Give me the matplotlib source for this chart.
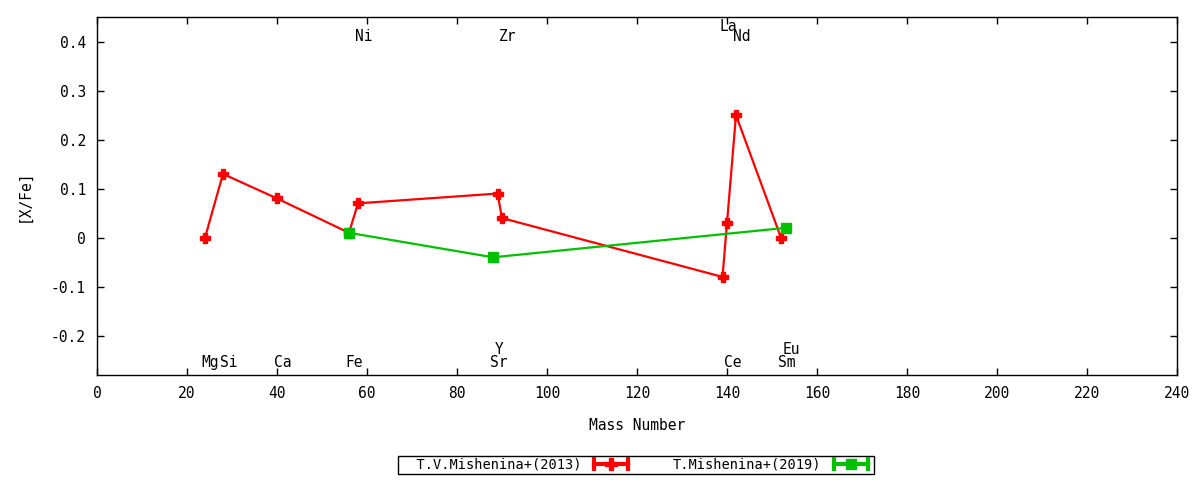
import matplotlib
matplotlib.use("Agg")
import matplotlib.pyplot as plt
from matplotlib.lines import Line2D
from matplotlib.legend_handler import HandlerLine2D, HandlerTuple

plt.rcParams['font.family'] = ['DejaVu Sans Mono']
plt.rcParams['font.size'] = 10

# Data
red_mass = [24, 28, 40, 56, 58, 89, 90, 139, 140, 142, 152]
red_val = [0.0, 0.13, 0.08, 0.01, 0.07, 0.09, 0.04, -0.08, 0.03, 0.25, 0.0]
green_mass = [56, 88, 153]
green_val = [0.01, -0.04, 0.02]
red_label = "T.V.Mishenina+(2013)"
green_label = "T.Mishenina+(2019)"

elem_names = ["Mg", "Si", "Ca", "Fe", "Sr", "Y", "Ce", "Sm", "Eu", "Ni", "Zr", "La", "Nd"]
elem_mass = [24, 28, 40, 56, 88, 89, 140, 152, 153, 58, 90, 139, 142]
elem_ypos = [-0.255, -0.255, -0.255, -0.255, -0.255, -0.227, -0.255, -0.255, -0.227,
             0.41, 0.41, 0.43, 0.41]

xticks = list(range(0, 241, 20))
yticks = [-0.2, -0.1, 0.0, 0.1, 0.2, 0.3, 0.4]
ytick_labels = ["-0.2", "-0.1", "0", "0.1", "0.2", "0.3", "0.4"]

RED = "#ff0000"
GREEN = "#00c000"

fig = plt.figure(figsize=(12, 4.8), dpi=100)
ax = fig.add_axes([97/1200, 1-375/480, (1177-97)/1200, (375-17)/480])

ax.plot(red_mass, red_val, color=RED, lw=1.6, marker='P', ms=7.5, mec=RED, mfc=RED)
ax.plot(green_mass, green_val, color=GREEN, lw=1.6, marker='s', ms=7, mec=GREEN, mfc=GREEN)

for n, m, yv in zip(elem_names, elem_mass, elem_ypos):
    ax.text(m - 0.7, yv, n, ha='left', va='center', fontsize=10.5)

ax.set_xlim(0, 240)
ax.set_ylim(-0.28, 0.45)
ax.set_xticks(xticks)
ax.set_yticks(yticks)
ax.set_yticklabels(ytick_labels)
ax.tick_params(direction='in', top=True, right=True, length=5, width=1, pad=8, labelsize=10.5)
for s in ax.spines.values():
    s.set_linewidth(1)
ax.set_xlabel("Mass Number", labelpad=12, fontsize=10.5)
ax.set_ylabel("[X/Fe]", labelpad=14, fontsize=10.5)

# legend
def make_handle(color, marker, ms):
    cap = Line2D([], [], color=color, lw=3, marker='|', ms=10, mew=3)
    mk = Line2D([], [], color=color, lw=0, marker=marker, ms=ms, mec=color, mfc=color)
    return cap, mk

rc, rm = make_handle(RED, 'P', 8)
gc, gm = make_handle(GREEN, 's', 7)
hmap = {rc: HandlerLine2D(numpoints=2), gc: HandlerLine2D(numpoints=2),
        rm: HandlerLine2D(numpoints=1), gm: HandlerLine2D(numpoints=1)}
leg = fig.legend([(rc, rm), (gc, gm)], ["  " + red_label, green_label],
                 handler_map={tuple: HandlerTuple(ndivide=1), **hmap},
                 loc='center', bbox_to_anchor=(636/1200, 1-465/480), ncol=2,
                 markerfirst=False, fancybox=False, edgecolor='black', framealpha=1,
                 handlelength=3.1, columnspacing=3.0, borderpad=0.15, handletextpad=0.6,
                 borderaxespad=0, prop={'size': 9.8})
leg.get_frame().set_linewidth(1)

fig.savefig("out.png", dpi=100)
